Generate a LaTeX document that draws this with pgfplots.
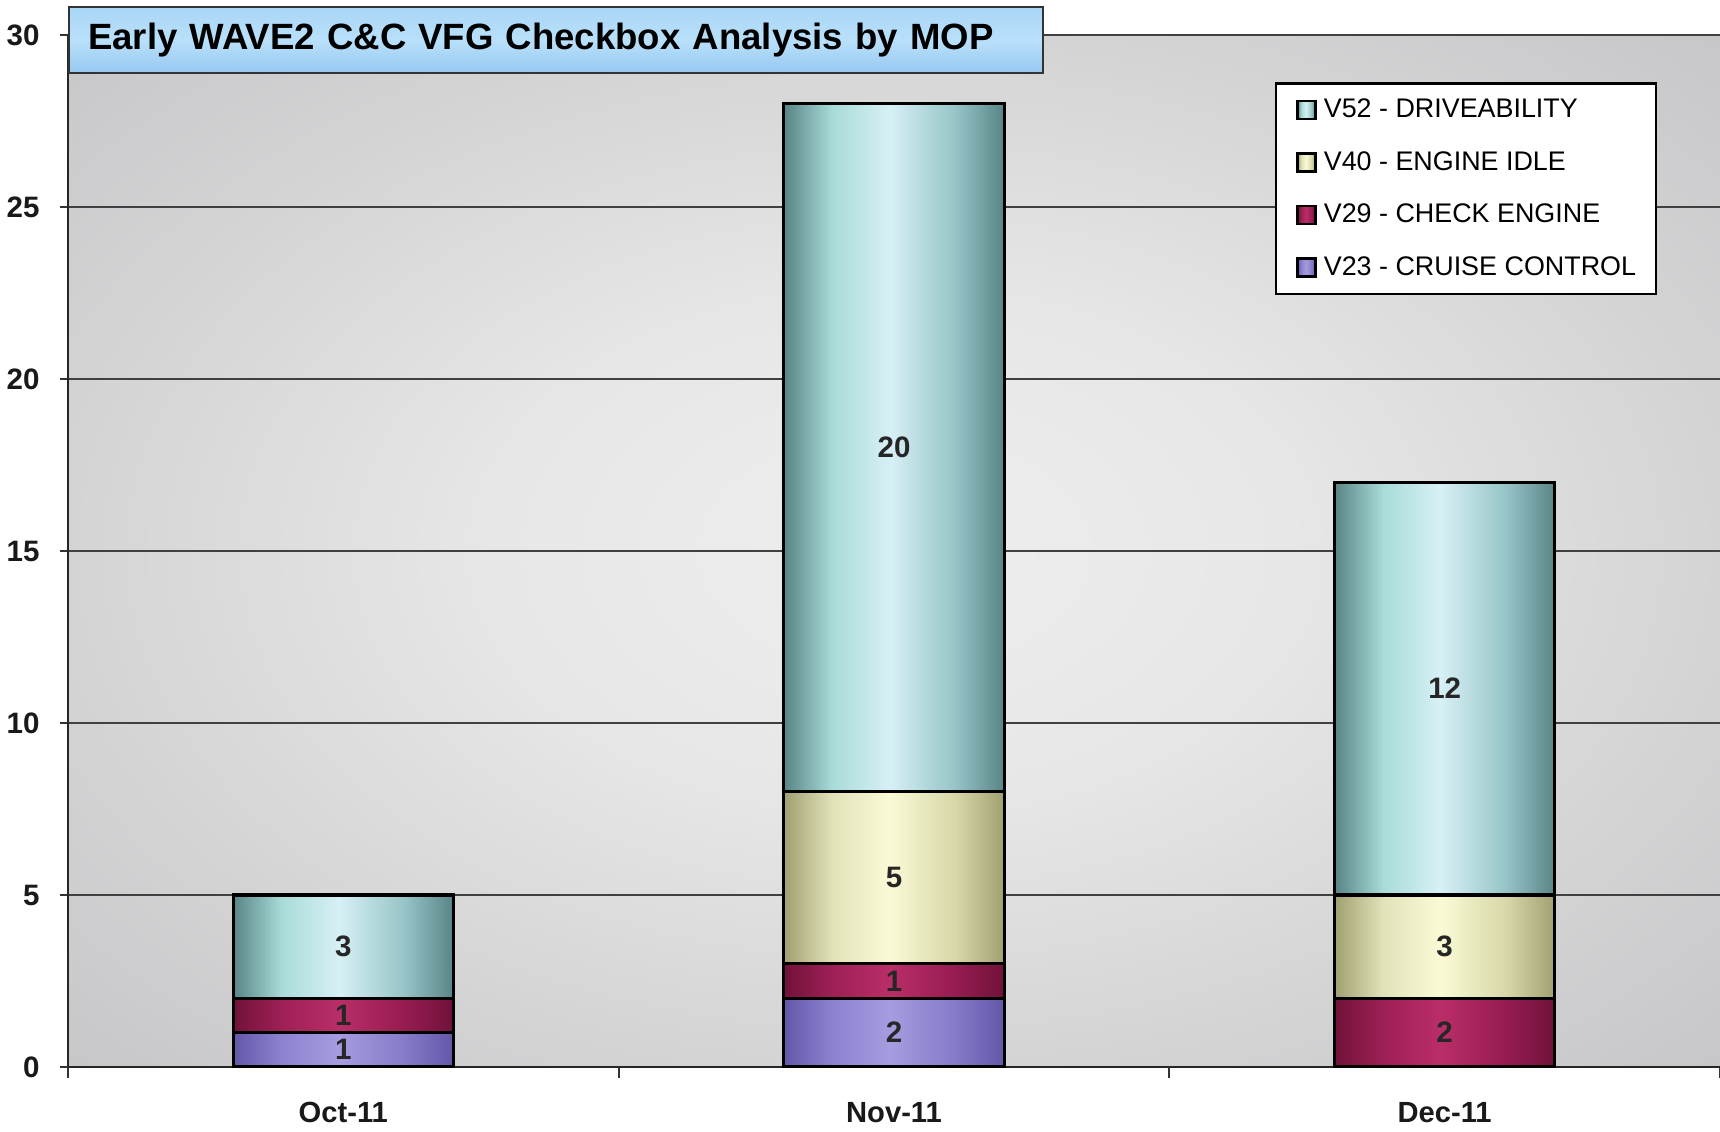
\documentclass[border=0pt]{standalone}
\usepackage{pgfplots}
\pgfplotsset{compat=1.18}
\usepackage{fontspec}
\setmainfont{Liberation Sans}
\definecolor{bgL}{RGB}{238,238,238}
\definecolor{bgK}{RGB}{231,231,231}
\definecolor{bgM}{RGB}{212,212,213}
\definecolor{bgD}{RGB}{198,198,201}
\pgfdeclareradialshading{bgshade}{\pgfpoint{0bp}{0bp}}{color(0bp)=(bgL); color(12bp)=(bgK); color(25bp)=(bgM); color(36bp)=(bgD); color(50bp)=(bgD)}
\definecolor{tealD}{RGB}{88,132,134}
\definecolor{tealM}{RGB}{168,220,216}
\definecolor{tealL}{RGB}{215,240,246}
\definecolor{tealN}{RGB}{150,196,198}
\definecolor{yelD}{RGB}{160,160,112}
\definecolor{yelM}{RGB}{226,226,186}
\definecolor{yelL}{RGB}{250,250,214}
\definecolor{yelN}{RGB}{215,215,168}
\definecolor{marD}{RGB}{112,18,58}
\definecolor{marM}{RGB}{158,32,84}
\definecolor{marL}{RGB}{186,46,104}
\definecolor{marN}{RGB}{150,28,80}
\definecolor{lavD}{RGB}{98,88,168}
\definecolor{lavM}{RGB}{140,130,208}
\definecolor{lavL}{RGB}{166,156,224}
\definecolor{lavN}{RGB}{132,122,200}
% one gradient per bar: the plot path spans x=-0.2..2.2, mapped onto 25bp..75bp
\newcommand\barshading[2]{%
  \pgfdeclarehorizontalshading{#1}{100bp}{color(0bp)=(#2D); color(25bp)=(#2D); color(26.833bp)=(#2M); color(29bp)=(#2L); color(31.5bp)=(#2N); color(33.333bp)=(#2D);
    color(45.833bp)=(#2D); color(47.667bp)=(#2M); color(49.833bp)=(#2L); color(52.333bp)=(#2N); color(54.167bp)=(#2D);
    color(66.667bp)=(#2D); color(68.5bp)=(#2M); color(70.667bp)=(#2L); color(73.167bp)=(#2N); color(75bp)=(#2D); color(100bp)=(#2D)}}
% two bars one unit apart: the path spans 1.4 units
\newcommand\barshadingtwo[2]{%
  \pgfdeclarehorizontalshading{#1}{100bp}{color(0bp)=(#2D); color(25bp)=(#2D); color(28.143bp)=(#2M); color(31.857bp)=(#2L); color(36.143bp)=(#2N); color(39.286bp)=(#2D);
    color(60.714bp)=(#2D); color(63.857bp)=(#2M); color(67.571bp)=(#2L); color(71.857bp)=(#2N); color(75bp)=(#2D); color(100bp)=(#2D)}}
% single gradient for the legend squares
\newcommand\legshading[2]{%
  \pgfdeclarehorizontalshading{#1}{100bp}{color(0bp)=(#2D); color(25bp)=(#2D); color(36bp)=(#2M); color(49bp)=(#2L); color(64bp)=(#2N); color(75bp)=(#2D); color(100bp)=(#2D)}}
\barshading{tealS}{teal}
\barshadingtwo{yelS}{yel}
\barshading{marS}{mar}
\barshadingtwo{lavS}{lav}
\legshading{tealG}{teal}
\legshading{yelG}{yel}
\legshading{marG}{mar}
\legshading{lavG}{lav}
\definecolor{ttlT}{RGB}{168,214,246}
\definecolor{ttlB}{RGB}{150,200,240}
\begin{document}
\begin{tikzpicture}
\begin{axis}[name=ax,
  scale only axis, width=165.2mm, height=103.2mm,
  xmin=-0.5, xmax=2.5, ymin=0, ymax=30,
  ybar stacked, bar width=0.4,
  axis background/.style={shade, shading=bgshade},
  xtick={0,1,2}, xticklabels={Oct-11,Nov-11,Dec-11},
  xtick style={draw=none},
  extra x ticks={-0.5,0.5,1.5,2.5}, extra x tick labels={},
  extra x tick style={xtick style={draw=black!80, line width=0.6pt}, major tick length=1.1mm},
  ytick={0,5,...,30},
  ytick style={draw=black!80, line width=0.6pt},
  major tick length=0.8mm,
  tick align=outside,
  ymajorgrids, grid style={black!75, line width=0.5pt},
  axis x line*=bottom, axis y line*=left,
  axis line style={-, black!85, line width=0.7pt},
  /pgf/number format/assume math mode=true,
  ticklabel style={font=\bfseries\fontsize{8.4}{10}\selectfont, text=black!90},
  xticklabel style={font=\bfseries\fontsize{8.3}{10}\selectfont, yshift=-1.5mm},
  yticklabel style={xshift=-0.8mm},
  title={Early WAVE2 C\&C VFG Checkbox Analysis by MOP},
  every axis title/.style={at={(0,1)}, anchor=north west, yshift=2.9mm, draw=black!80, line width=0.7pt,
    top color=ttlT, bottom color=ttlB, middle color={rgb,255:red,185;green,224;blue,250}, minimum height=6.6mm, text width=93.6mm,
    inner xsep=1.9mm, inner ysep=0pt, align=left, font=\bfseries\fontsize{10.4}{12}\selectfont},
  legend style={at={(0.7306,0.954)}, anchor=north west, draw=black, fill=white, line width=0.6pt,
    font=\fontsize{7.65}{9}\selectfont, row sep=2.75mm, column sep=0.7mm,
    inner xsep=2.0mm, inner ysep=1.4mm,
    nodes={inner sep=0pt, text height=2mm, text depth=0.5mm, anchor=west}},
  legend cell align=left,
  reverse legend,
]
\addplot[draw=black, line width=0.9pt, shade, shading=lavS,
  legend image code/.code={\draw[draw=black, line width=0.8pt, shade, shading=lavG] (0mm,-0.9mm) rectangle (1.8mm,0.9mm);}]
  coordinates {(0,1) (1,2) (2,0)};
\addlegendentry{V23 - CRUISE CONTROL}
\addplot[draw=black, line width=0.9pt, shade, shading=marS,
  legend image code/.code={\draw[draw=black, line width=0.8pt, shade, shading=marG] (0mm,-0.9mm) rectangle (1.8mm,0.9mm);}]
  coordinates {(0,1) (1,1) (2,2)};
\addlegendentry{V29 - CHECK ENGINE}
\addplot[draw=black, line width=0.9pt, shade, shading=yelS,
  legend image code/.code={\draw[draw=black, line width=0.8pt, shade, shading=yelG] (0mm,-0.9mm) rectangle (1.8mm,0.9mm);}]
  coordinates {(0,0) (1,5) (2,3)};
\addlegendentry{V40 - ENGINE IDLE}
\addplot[draw=black, line width=0.9pt, shade, shading=tealS,
  legend image code/.code={\draw[draw=black, line width=0.8pt, shade, shading=tealG] (0mm,-0.9mm) rectangle (1.8mm,0.9mm);}]
  coordinates {(0,3) (1,20) (2,12)};
\addlegendentry{V52 - DRIVEABILITY}
\end{axis}
\begin{axis}[scale only axis, width=165.2mm, height=103.2mm,
  xmin=-0.5, xmax=2.5, ymin=0, ymax=30, hide axis, clip=false]
\addplot[draw=none, mark=none, nodes near coords, point meta=explicit symbolic,
  every node near coord/.append style={anchor=center, font=\bfseries\fontsize{8.4}{10}\selectfont, text=black!85}]
  coordinates {(0,0.5) [1] (0,1.5) [1] (0,3.5) [3] (1,1) [2] (1,2.5) [1] (1,5.5) [5] (1,18) [20] (2,1) [2] (2,3.5) [3] (2,11) [12]};
\end{axis}
\pgfresetboundingbox
\path[use as bounding box] (ax.south west) ++(-6.8mm,-6.4mm) rectangle ++(172mm,113.1mm);
\end{tikzpicture}
\end{document}
